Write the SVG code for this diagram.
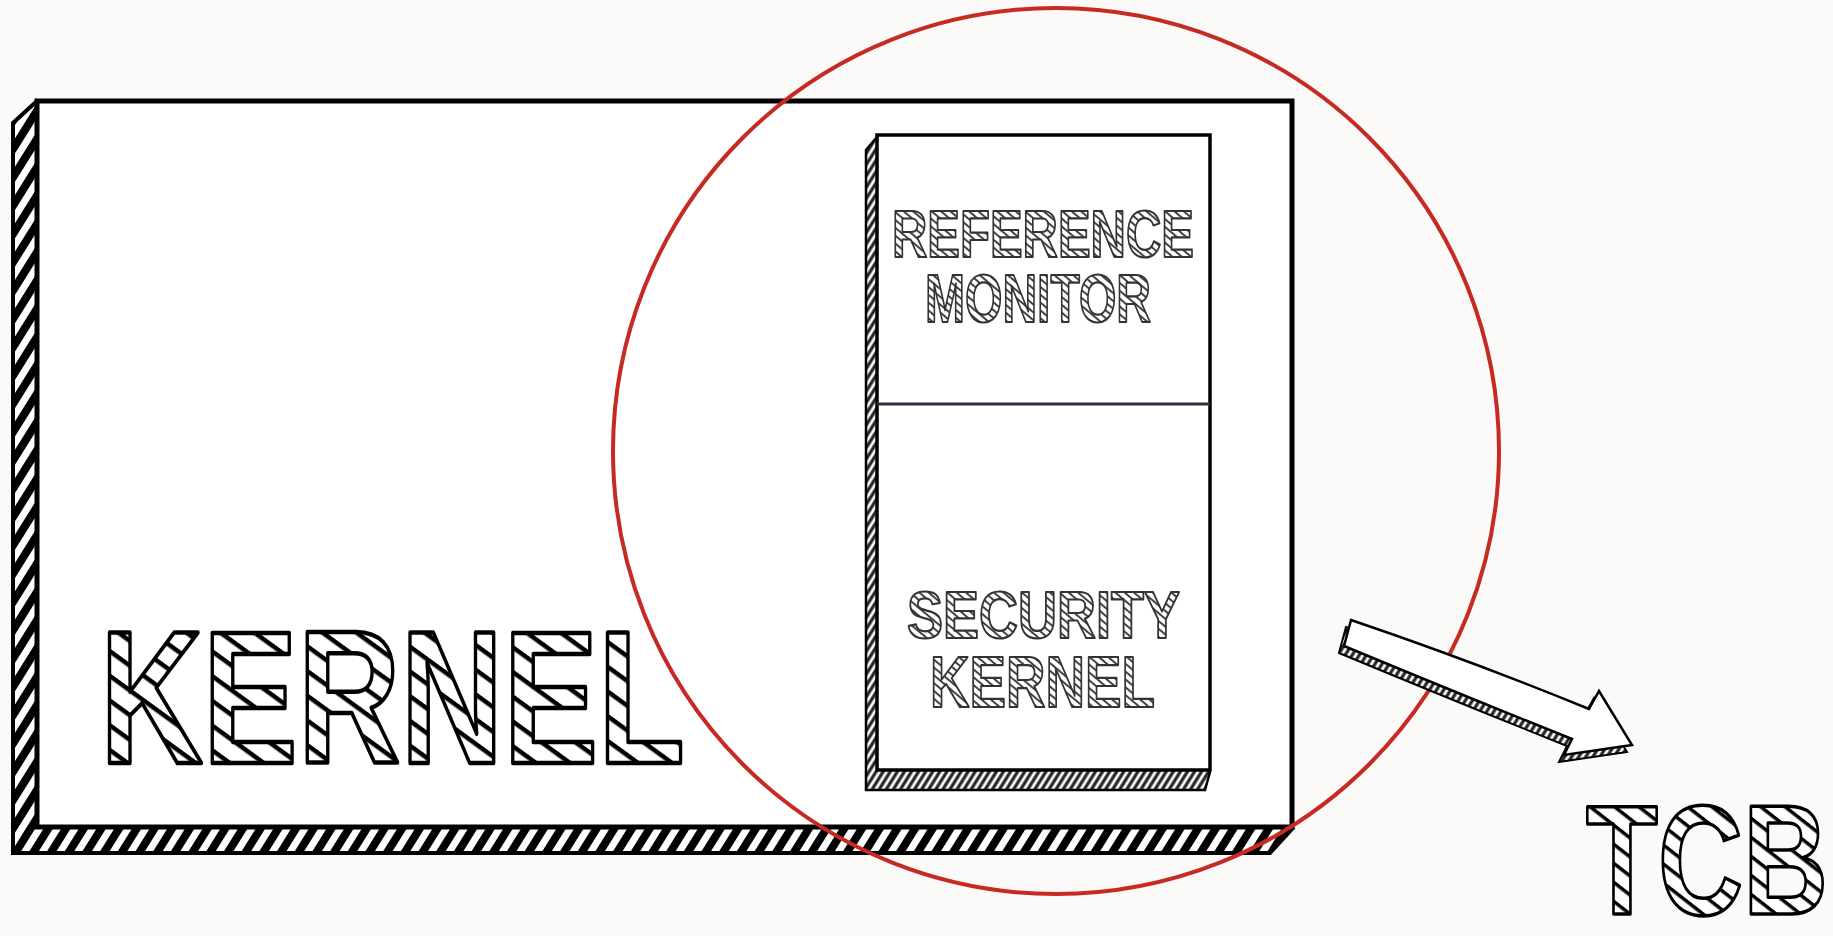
<svg xmlns="http://www.w3.org/2000/svg" width="1833" height="936" viewBox="0 0 1833 936">
<defs>
<pattern id="stripeBig" width="15" height="15" patternUnits="userSpaceOnUse" patternTransform="rotate(-58)"><rect width="15" height="15" fill="#000"/><rect y="4" width="15" height="7" fill="#fff"/></pattern>
<pattern id="stripeFine" width="6" height="6" patternUnits="userSpaceOnUse" patternTransform="rotate(-58)"><rect width="6" height="6" fill="#222"/><rect y="1.5" width="6" height="2.8" fill="#fff"/></pattern>
<pattern id="hatchBig" width="20" height="20" patternUnits="userSpaceOnUse" patternTransform="rotate(36)"><rect width="20" height="20" fill="#fff"/><rect width="20" height="4.5" fill="#000"/></pattern>
<pattern id="hatchMid" width="15" height="15" patternUnits="userSpaceOnUse" patternTransform="rotate(38)"><rect width="15" height="15" fill="#fff"/><rect width="15" height="3.5" fill="#000"/></pattern>
<pattern id="hatchSmall" width="6" height="6" patternUnits="userSpaceOnUse" patternTransform="rotate(40)"><rect width="6" height="6" fill="#fff"/><rect width="6" height="2" fill="#444"/></pattern>
</defs>
<style>
.big{font-family:"Liberation Sans",Arial,sans-serif;font-weight:bold;fill:url(#hatchBig);stroke:#000;stroke-width:4.5;stroke-linejoin:round}
.tcb{font-family:"Liberation Sans",Arial,sans-serif;font-weight:bold;fill:url(#hatchMid);stroke:#000;stroke-width:3.5;stroke-linejoin:round}
.small{font-family:"Liberation Sans",Arial,sans-serif;font-weight:bold;fill:url(#hatchSmall);stroke:#333;stroke-width:2.2;stroke-linejoin:round}
.box{fill:#fff;stroke:#000;stroke-linejoin:miter}
</style>
<rect width="1833" height="936" fill="#fbfaf9"/>
<g id="kernel-box">
<polygon points="37,101 13,123 13,853 1270,853 1292,829" fill="url(#stripeBig)" stroke="#000" stroke-width="4"/>
<rect class="box" x="37" y="101" width="1255" height="726" stroke-width="5"/>
<text class="big" x="100" y="763" font-size="190" textLength="585" lengthAdjust="spacingAndGlyphs">KERNEL</text>
</g>
<g id="inner-box">
<polygon points="877,137 866,150 866,790 1205,790 1210,772" fill="url(#stripeFine)" stroke="#000" stroke-width="2.5"/>
<rect class="box" x="877" y="135" width="333" height="635" stroke-width="3.5"/>
<line x1="877" y1="404" x2="1210" y2="404" stroke="#2a3040" stroke-width="3"/>
</g>
<g id="reference-monitor">
<text class="small"><tspan x="892" y="257" font-size="66" textLength="302" lengthAdjust="spacingAndGlyphs">REFERENCE</tspan><tspan x="925" y="322" font-size="68" textLength="226" lengthAdjust="spacingAndGlyphs">MONITOR</tspan></text>
</g>
<g id="security-kernel">
<text class="small"><tspan x="907" y="638" font-size="67" textLength="273" lengthAdjust="spacingAndGlyphs">SECURITY</tspan><tspan x="930" y="707" font-size="72" textLength="225" lengthAdjust="spacingAndGlyphs">KERNEL</tspan></text>
</g>
<g id="tcb-circle">
<circle cx="1056" cy="451" r="443" fill="none" stroke="#c62a22" stroke-width="4"/>
</g>
<g id="connectors">
<path d="M1346,627 Q1467,668 1584,716 L1594,698 L1627,752 L1559,762 L1567,746 Q1457,702 1339,653 Z" fill="url(#stripeFine)" stroke="#000" stroke-width="2"/>
<path d="M1351,620 Q1472,661 1589,709 L1599,691 L1632,745 L1564,755 L1572,739 Q1462,695 1344,646 Z" fill="#fff" stroke="#000" stroke-width="2.5" stroke-linejoin="miter"/>
</g>
<g id="tcb">
<text class="tcb" x="1586" y="914" font-size="155" textLength="242" lengthAdjust="spacingAndGlyphs">TCB</text>
</g>
</svg>
